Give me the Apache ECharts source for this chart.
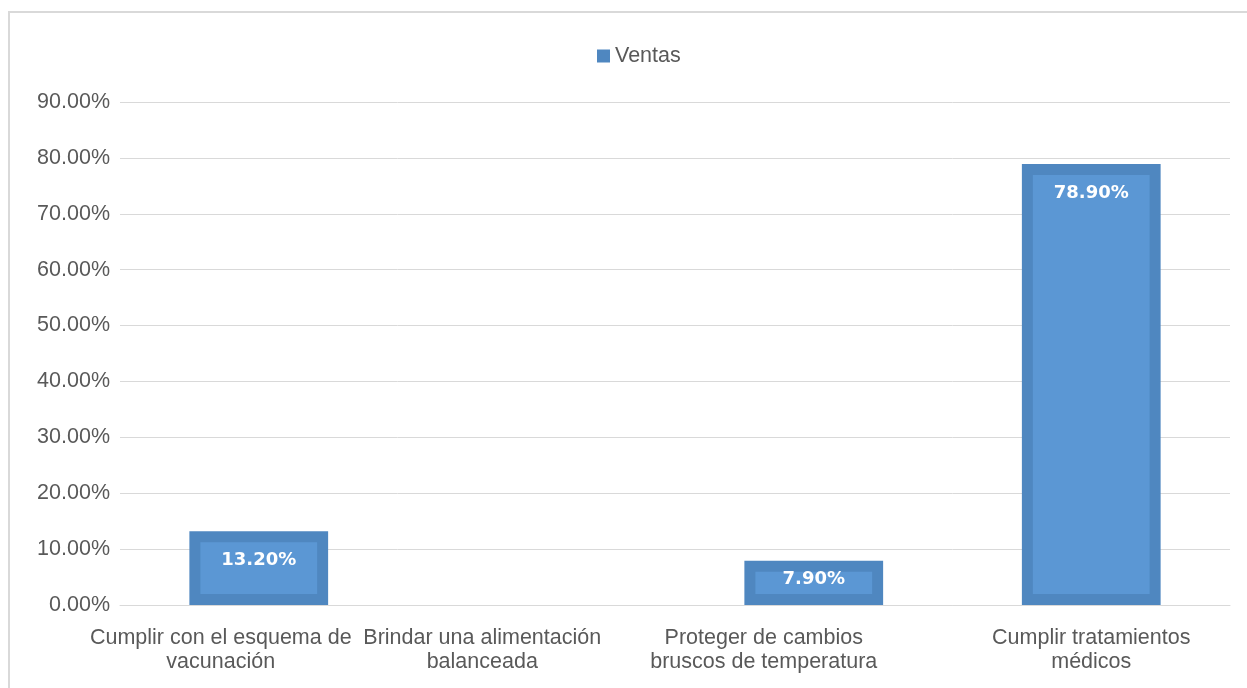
<!DOCTYPE html>
<html>
<head>
<meta charset="utf-8">
<title>Ventas</title>
<script src="https://cdn.jsdelivr.net/npm/echarts@6/dist/echarts.min.js"></script>
<style>
  html, body { margin: 0; height: 100%; background: #fff; }
  #main { width: 1247px; height: 688px; }
</style>
</head>
<body>
<div id="main"></div>
<script>
// data
var categories = [
  'Cumplir con el esquema de\nvacunación',
  'Brindar una alimentación\nbalanceada',
  'Proteger de cambios\nbruscos de temperatura',
  'Cumplir tratamientos\nmédicos'
];
var ventas = [13.2, 0, 7.9, 78.9];
var yTicks = [0, 10, 20, 30, 40, 50, 60, 70, 80, 90];

// excel label drift (px to the left) per category
var labelShift = [38, 54, 50, 0];

var OUTER = '#4f87c0';
var INNER = '#5b97d4';
var GREY = '#595959';
var LINE = '#d9d9d9';
var FONT = 'Liberation Sans, Arial';

var rich = {};
for (var i = 0; i < categories.length; i++) {
  rich['s' + i] = {
    fontSize: 21.5,
    lineHeight: 24,
    color: GREY,
    fontFamily: FONT,
    padding: [0, labelShift[i] * 2, 0, 0]
  };
}

var seriesData = ventas.map(function (v, i) { return [i, v]; });

function renderBar(params, api) {
  var v = api.value(1);
  if (!v) return;
  var top = api.coord([api.value(0), v]);
  var base = api.coord([api.value(0), 0]);
  var bw = api.size([1, 0])[0] * 0.5;
  var b = 11;
  var h = base[1] - top[1];
  var ly = top[1] + Math.min(29, h / 2 - 4);
  return {
    type: 'group',
    children: [
      { type: 'rect', shape: { x: top[0] - bw / 2, y: top[1], width: bw, height: h }, style: { fill: OUTER } },
      { type: 'rect', shape: { x: top[0] - bw / 2 + b, y: top[1] + b, width: bw - 2 * b, height: Math.max(0, h - 2 * b) }, style: { fill: INNER } },
      { type: 'text', x: top[0], y: ly, style: {
          text: v.toFixed(2) + '%', fill: '#fff',
          font: 'bold 18px "DejaVu Sans"', align: 'center', verticalAlign: 'middle'
        } }
    ]
  };
}

var myChart = echarts.init(document.getElementById('main'));
var option = {
  animation: false,
  backgroundColor: '#fff',
  graphic: [{
    type: 'rect',
    shape: { x: 9, y: 12, width: 1260, height: 700 },
    style: { fill: 'none', stroke: LINE, lineWidth: 2 },
    silent: true
  }],
  legend: {
    data: ['Ventas'],
    left: 592,
    top: 40,
    icon: 'rect',
    itemWidth: 13,
    itemHeight: 13,
    textStyle: { color: GREY, fontSize: 21.5, fontFamily: FONT }
  },
  grid: { left: 120, right: 17, top: 102, bottom: 83 },
  xAxis: {
    type: 'category',
    data: categories,
    axisTick: { show: false },
    axisLine: { lineStyle: { color: LINE, width: 1 } },
    axisLabel: {
      interval: 0,
      margin: 21,
      formatter: function (val, idx) {
        return val.split('\n').map(function (l) { return '{s' + idx + '|' + l + '}'; }).join('\n');
      },
      rich: rich
    }
  },
  yAxis: {
    type: 'value',
    min: yTicks[0],
    max: yTicks[yTicks.length - 1],
    interval: yTicks[1] - yTicks[0],
    axisLine: { show: false },
    axisTick: { show: false },
    splitLine: { lineStyle: { color: LINE, width: 1 } },
    axisLabel: {
      margin: 10,
      color: GREY,
      fontSize: 21.5,
      fontFamily: FONT,
      formatter: function (v) { return v.toFixed(2) + '%'; }
    }
  },
  series: [{
    name: 'Ventas',
    type: 'custom',
    itemStyle: { color: OUTER },
    encode: { x: 0, y: 1 },
    renderItem: renderBar,
    data: seriesData
  }]
};
myChart.setOption(option);
</script>
</body>
</html>
